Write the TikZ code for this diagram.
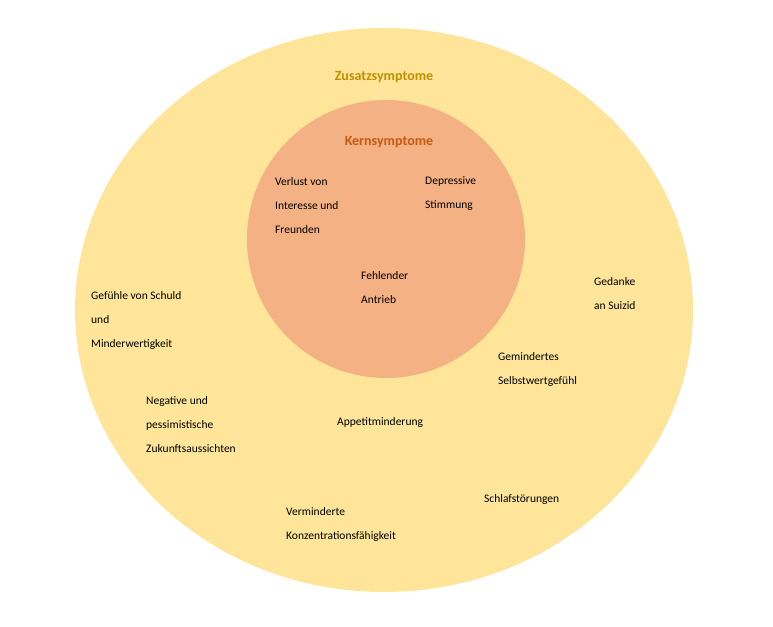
\documentclass[tikz,border=0pt]{standalone}
\usepackage{fontspec}
\setmainfont{Carlito}
\definecolor{outerc}{HTML}{FEE599}
\definecolor{innerc}{HTML}{F4B183}
\definecolor{zus}{HTML}{BF9000}
\definecolor{kern}{HTML}{C55A11}
\tikzset{lbl/.style={anchor=north west,inner sep=0pt,align=left,font=\fontsize{11.5pt}{24pt}\selectfont}}
\begin{document}
\begin{tikzpicture}[x=1pt,y=-1pt]
\useasboundingbox (0,0) rectangle (773,626);
\fill[outerc] (384,310) ellipse [x radius=309, y radius=282];
\node[fill=innerc,circle,minimum size=278pt,inner sep=0pt] (core) at (386,239) {};
\node[font=\fontsize{14pt}{16pt}\selectfont\bfseries,text=zus] (zt) at (384,77) {Zusatzsymptome};
\node[font=\fontsize{14pt}{16pt}\selectfont\bfseries,text=kern] (kt) at (389,142) {Kernsymptome};
\node[lbl] (a) at (275,177) {Verlust von\\Interesse und\\Freunden};
\node[lbl] (b) at (425,176) {Depressive\\Stimmung};
\node[lbl] (c) at (361,271) {Fehlender\\Antrieb};
\node[lbl] (d) at (594,277) {Gedanke\\an Suizid};
\node[lbl] (e) at (91,291) {Gefühle von Schuld\\und\\Minderwertigkeit};
\node[lbl] (f) at (498,352) {Gemindertes\\Selbstwertgefühl};
\node[lbl] (g) at (146,396) {Negative und\\pessimistische\\Zukunftsaussichten};
\node[lbl] (h) at (337,417) {Appetitminderung};
\node[lbl] (i) at (484,494) {Schlafstörungen};
\node[lbl] (j) at (286,507) {Verminderte\\Konzentrationsfähigkeit};
\end{tikzpicture}
\end{document}
